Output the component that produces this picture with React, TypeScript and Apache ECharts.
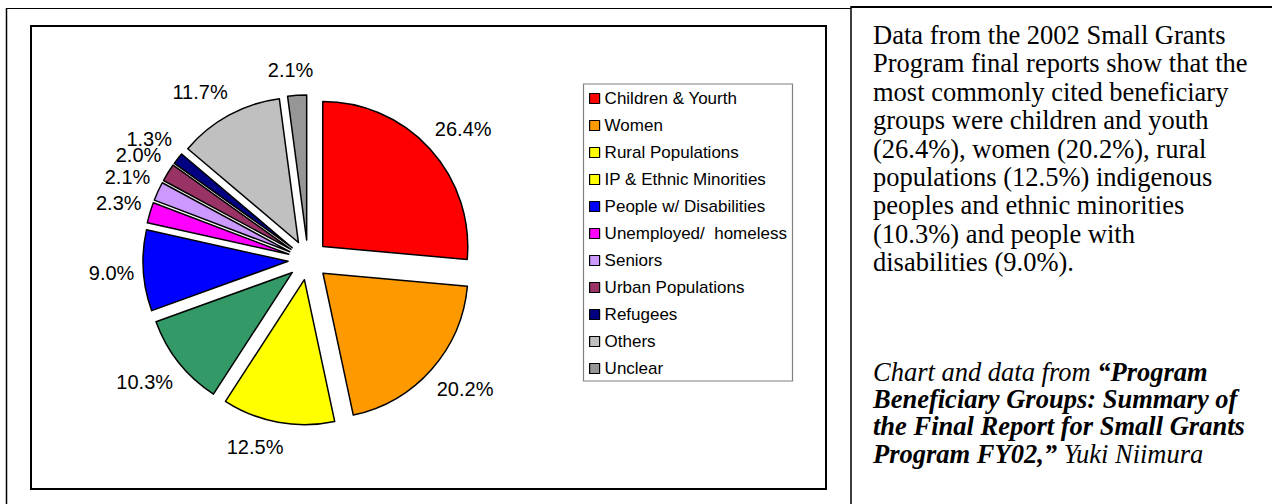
import React, { useEffect, useRef } from "react";
import * as echarts from "echarts";

const categories = [
  "Children & Yourth",
  "Women",
  "Rural Populations",
  "IP & Ethnic Minorities",
  "People w/ Disabilities",
  "Unemployed/  homeless",
  "Seniors",
  "Urban Populations",
  "Refugees",
  "Others",
  "Unclear",
];
const values = [26.4, 20.2, 12.5, 10.3, 9.0, 2.3, 2.1, 2.0, 1.3, 11.7, 2.1];
const sliceColors = [
  "#FF0000", "#FF9900", "#FFFF00", "#339966", "#0000FF", "#FF00FF",
  "#CC99FF", "#993366", "#000080", "#C0C0C0", "#969696",
];
const legendColors = [
  "#FF0000", "#FF9900", "#FFFF00", "#FFFF00", "#0000FF", "#FF00FF",
  "#CC99FF", "#993366", "#000080", "#C0C0C0", "#969696",
];
const bodyLines = [
  "Data from the 2002 Small Grants",
  "Program final reports show that the",
  "most commonly cited beneficiary",
  "groups were children and youth",
  "(26.4%), women (20.2%), rural",
  "populations (12.5%) indigenous",
  "peoples and ethnic minorities",
  "(10.3%) and people with",
  "disabilities (9.0%).",
];
const citeLines = [
  "{i|Chart and data from }{bi|\u201cProgram}",
  "{bi|Beneficiary Groups: Summary of}",
  "{bi|the Final Report for Small Grants}",
  "{bi|Program FY02,\u201d}{i| Yuki Niimura}",
];

const SANS = "'Liberation Sans', Arial, sans-serif";
const SERIF = "'Liberation Serif', 'Times New Roman', serif";

const clamp1 = (t: number) => Math.max(-1, Math.min(1, t));

export default function App() {
  const ref = useRef<HTMLDivElement>(null);
  useEffect(() => {
    if (!ref.current) return;
    const chart = echarts.init(ref.current, undefined, { renderer: "svg" });
    const center = [308, 260];
    const sliceData = categories.map((name, i) => ({
      name,
      value: values[i],
      selected: true,
      itemStyle: { color: sliceColors[i] },
    }));
    const labelData = categories.map((name, i) => ({ name, value: values[i] }));
    const serifText = { fontFamily: SERIF, fontSize: 26.5, fill: "#000" };
    // Excel-like "outside end": the label box's near corner sits just beyond the slice edge
    const labelLayout = (p: any) => {
      const r = p.labelRect;
      if (!r) return { hideOverlap: false };
      const lx = r.x + r.width / 2 - center[0];
      const ly = r.y + r.height / 2 - center[1];
      const len = Math.sqrt(lx * lx + ly * ly) || 1;
      const ux = lx / len;
      const uy = ly / len;
      return {
        dx: (r.width / 2 - 6) * clamp1(ux / 0.2),
        dy: 10 * clamp1(uy / 0.5),
        hideOverlap: false,
      };
    };
    chart.setOption({
      animation: false,
      backgroundColor: "#fff",
      legend: {
        orient: "vertical",
        left: 589,
        top: 90,
        padding: 0,
        itemWidth: 10,
        itemHeight: 10,
        itemGap: 10,
        icon: "rect",
        selectedMode: false,
        textStyle: { fontFamily: SANS, fontSize: 17, color: "#000" },
        data: categories.map((name, i) => ({
          name,
          itemStyle: { color: legendColors[i], borderColor: "#000", borderWidth: 1.2 },
        })),
      },
      series: [
        {
          type: "pie",
          center,
          radius: 145,
          startAngle: 90,
          clockwise: true,
          selectedMode: "multiple",
          selectedOffset: 20,
          avoidLabelOverlap: false,
          label: { show: false },
          labelLine: { show: false },
          emphasis: { disabled: true },
          select: { itemStyle: { borderColor: "#000", borderWidth: 1.5 } },
          itemStyle: { borderColor: "#000", borderWidth: 1.5 },
          data: sliceData,
          z: 2,
        },
        {
          type: "pie",
          center,
          radius: [167, 187],
          startAngle: 90,
          clockwise: true,
          avoidLabelOverlap: false,
          minShowLabelAngle: 0,
          silent: true,
          emphasis: { disabled: true },
          itemStyle: { color: "rgba(0,0,0,0)", borderWidth: 0 },
          label: {
            show: true,
            position: "inside",
            fontFamily: SANS,
            fontSize: 20,
            color: "#000",
            formatter: (p: any) => Number(p.value).toFixed(1) + "%",
          },
          labelLine: { show: false },
          labelLayout,
          data: labelData,
          z: 3,
        },
      ],
      graphic: [
        { type: "line", shape: { x1: 6, y1: 8.5, x2: 851, y2: 8.5 }, style: { stroke: "#000", lineWidth: 1 } },
        { type: "line", shape: { x1: 6.5, y1: 8, x2: 6.5, y2: 504 }, style: { stroke: "#000", lineWidth: 1.5 } },
        { type: "line", shape: { x1: 851, y1: 7, x2: 1272, y2: 7 }, style: { stroke: "#000", lineWidth: 2 } },
        { type: "line", shape: { x1: 851, y1: 6, x2: 851, y2: 504 }, style: { stroke: "#000", lineWidth: 1.5 } },
        { type: "rect", shape: { x: 31, y: 26, width: 795, height: 463 }, style: { fill: "none", stroke: "#000", lineWidth: 2 }, z: 0 },
        { type: "rect", shape: { x: 583.5, y: 84, width: 209, height: 297 }, style: { fill: "none", stroke: "#808080", lineWidth: 1.2 }, z: 0 },
        {
          type: "text",
          x: 873,
          y: 20.8,
          style: { ...serifText, text: bodyLines.join("\n"), lineHeight: 28.4, verticalAlign: "top" },
        },
        {
          type: "text",
          x: 873,
          y: 358,
          style: {
            ...serifText,
            text: citeLines.join("\n"),
            lineHeight: 27.3,
            verticalAlign: "top",
            rich: {
              i: { fontFamily: SERIF, fontSize: 26.5, fontStyle: "italic", lineHeight: 27.3 },
              bi: { fontFamily: SERIF, fontSize: 26.5, fontStyle: "italic", fontWeight: "bold", lineHeight: 27.3 },
            },
          },
        },
      ],
    });
    return () => chart.dispose();
  }, []);
  return <div ref={ref} style={{ position: "absolute", left: 0, top: 0, width: 1272, height: 504 }} />;
}
